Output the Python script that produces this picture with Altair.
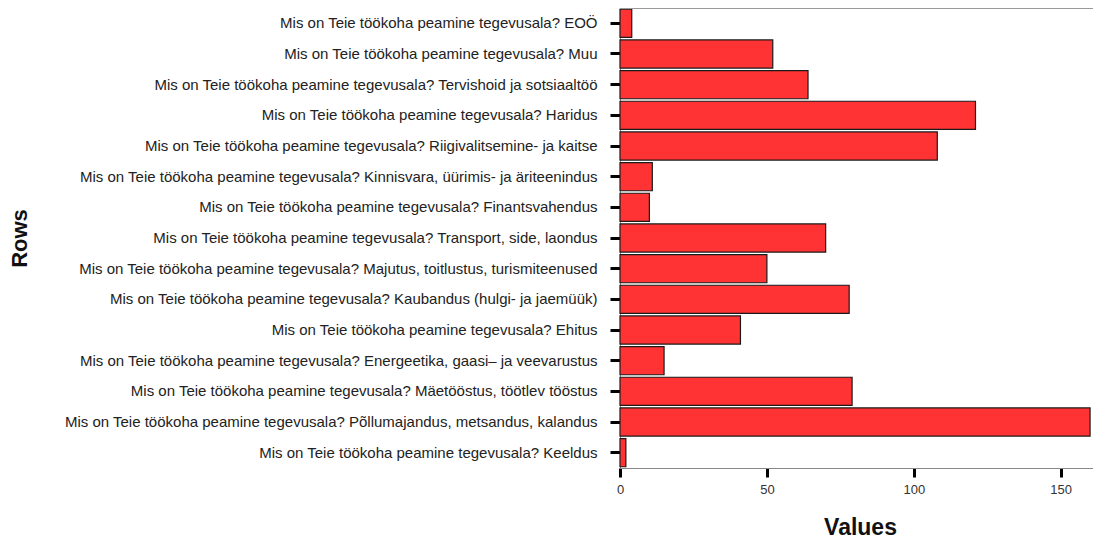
import altair as alt
import pandas as pd

prefix = "Mis on Teie töökoha peamine tegevusala? "
categories = [
    "EOÖ",
    "Muu",
    "Tervishoid ja sotsiaaltöö",
    "Haridus",
    "Riigivalitsemine- ja kaitse",
    "Kinnisvara, üürimis- ja äriteenindus",
    "Finantsvahendus",
    "Transport, side, laondus",
    "Majutus, toitlustus, turismiteenused",
    "Kaubandus (hulgi- ja jaemüük)",
    "Ehitus",
    "Energeetika, gaasi– ja veevarustus",
    "Mäetööstus, töötlev tööstus",
    "Põllumajandus, metsandus, kalandus",
    "Keeldus",
]
values = [4, 52, 64, 121, 108, 11, 10, 70, 50, 78, 41, 15, 79, 160, 2]

rows = [prefix + c for c in categories]
df = pd.DataFrame({"Rows": rows, "Values": values})

W = 473
H = 460

bars = (
    alt.Chart(df)
    .mark_bar(color="#FF3333", stroke="#1a1a1a", strokeWidth=1.2)
    .encode(
        y=alt.Y(
            "Rows:N",
            sort=rows,
            scale=alt.Scale(paddingInner=0.08, paddingOuter=0.04),
            axis=alt.Axis(
                title="Rows",
                titleFont="Liberation Sans",
                titleFontSize=22,
                titleFontWeight="bold",
                titleColor="#111",
                titleAngle=-90,
                titleX=-601,
                titleY=230,
                titleAlign="center",
                titleBaseline="middle",
                labelFont="Liberation Sans",
                labelFontSize=15,
                labelColor="#222",
                labelPadding=13,
                labelLimit=700,
                tickColor="#000",
                tickWidth=3,
                tickSize=10,
                domainColor="#888",
                domainWidth=1,
                grid=False,
            ),
        ),
        x=alt.X(
            "Values:Q",
            scale=alt.Scale(domain=[0, 161], nice=False, zero=True),
            axis=alt.Axis(
                title="Values",
                values=[0, 50, 100, 150],
                titleFont="Liberation Sans",
                titleFontSize=23,
                titleFontWeight="bold",
                titleColor="#111",
                titlePadding=20,
                titleX=240,
                labelFont="Liberation Sans",
                labelFontSize=13,
                labelColor="#333",
                labelPadding=6,
                tickColor="#000",
                tickWidth=3,
                tickSize=9,
                domainColor="#888",
                domainWidth=1,
                grid=False,
                labelFlush=False,
            ),
        ),
    )
)

top_line = alt.Chart(df).mark_rule(color="#999", strokeWidth=1).encode(
    x=alt.value(0), x2=alt.value(W), y=alt.value(0)
)

chart = (
    alt.layer(bars, top_line)
    .properties(
        width=W,
        height=H,
        autosize=alt.AutoSizeParams(type="none"),
        padding={"left": 612, "top": 0, "right": 0, "bottom": 76},
    )
    .configure_view(stroke=None)
)

chart.save("out.html", embed_options={"renderer": "svg", "actions": False})
